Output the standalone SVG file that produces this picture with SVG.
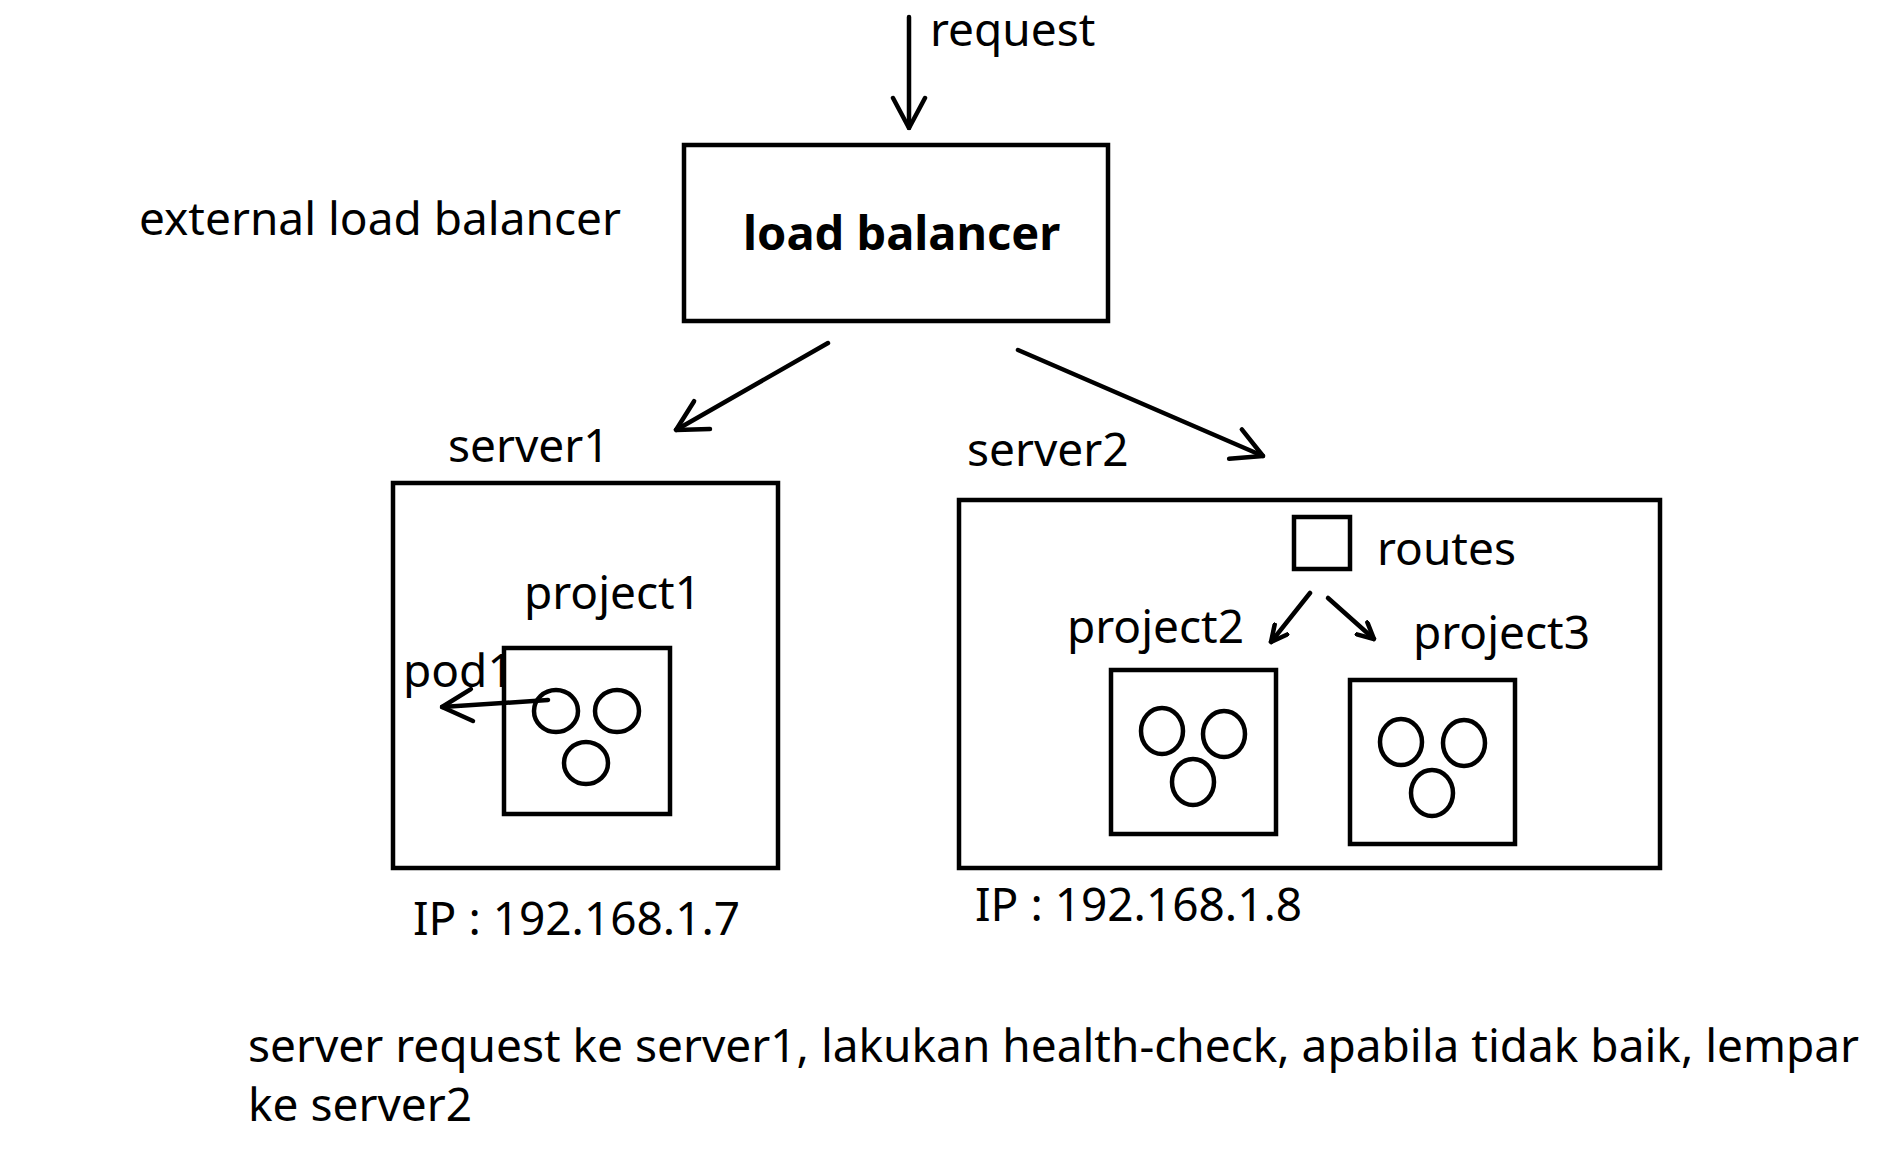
<svg xmlns="http://www.w3.org/2000/svg" width="1897" height="1150" viewBox="0 0 1897 1150">
<defs>
<style>
text{font-family:"Noto Sans","Open Sans",sans-serif;font-size:46px;fill:#000}
.b{font-weight:bold;font-size:47px}
.box{fill:none;stroke:#000;stroke-width:4.5}
.c{fill:none;stroke:#000;stroke-width:4.5}
.ln{fill:none;stroke:#000;stroke-width:4.5;stroke-linecap:round;stroke-linejoin:round}
</style>
<marker id="ah" viewBox="0 0 20 20" refX="18" refY="10" markerWidth="20" markerHeight="20" markerUnits="userSpaceOnUse" orient="auto">
<path d="M2,2 L18,10 L2,18" fill="none" stroke="#000" stroke-width="4.5" stroke-linecap="round" stroke-linejoin="round"/>
</marker>
<marker id="ahL" viewBox="0 0 40 40" refX="38" refY="20" markerWidth="40" markerHeight="40" markerUnits="userSpaceOnUse" orient="auto">
<path d="M8,4 L38,20 L8,36" fill="none" stroke="#000" stroke-width="4.5" stroke-linecap="round" stroke-linejoin="round"/>
</marker>
</defs>
<rect width="1897" height="1150" fill="#fff"/>
<text x="139" y="235">external load balancer</text>
<text x="930" y="46">request</text>
<g id="loadbalancer">
<rect class="box" x="684" y="145" width="424" height="176"/>
<text class="b" x="743" y="250">load balancer</text>
</g>
<g id="server1">
<text x="448" y="462">server1</text>
<rect class="box" x="393" y="483" width="385" height="385"/>
<text x="413" y="935">IP : 192.168.1.7</text>
</g>
<g id="project1">
<text x="524" y="609">project1</text>
<rect class="box" x="504" y="648" width="166" height="166"/>
<ellipse class="c" cx="556" cy="711" rx="22" ry="21"/>
<ellipse class="c" cx="617" cy="711" rx="22" ry="21"/>
<ellipse class="c" cx="586" cy="763" rx="22" ry="21"/>
</g>
<text x="403" y="687">pod1</text>
<g id="server2">
<text x="967" y="466">server2</text>
<rect class="box" x="959" y="500" width="701" height="368"/>
<text x="975" y="921">IP : 192.168.1.8</text>
</g>
<g id="routes">
<rect class="box" x="1294" y="517" width="56" height="52"/>
<text x="1377" y="565">routes</text>
</g>
<g id="project2">
<text x="1067" y="643">project2</text>
<rect class="box" x="1111" y="670" width="165" height="164"/>
<ellipse class="c" cx="1162" cy="731" rx="21" ry="23"/>
<ellipse class="c" cx="1224" cy="734" rx="21" ry="23"/>
<ellipse class="c" cx="1193" cy="782" rx="21" ry="23"/>
</g>
<g id="project3">
<text x="1413" y="649">project3</text>
<rect class="box" x="1350" y="680" width="165" height="164"/>
<ellipse class="c" cx="1401" cy="742" rx="21" ry="23"/>
<ellipse class="c" cx="1464" cy="743" rx="21" ry="23"/>
<ellipse class="c" cx="1432" cy="793" rx="21" ry="23"/>
</g>
<g id="connectors">
<line class="ln" x1="909" y1="17" x2="909" y2="128" marker-end="url(#ahL)"/>
<line class="ln" x1="828" y1="343" x2="676" y2="430" marker-end="url(#ahL)"/>
<line class="ln" x1="1018" y1="350" x2="1263" y2="456" marker-end="url(#ahL)"/>
<line class="ln" x1="548" y1="700" x2="442" y2="707" marker-end="url(#ahL)"/>
<line class="ln" x1="1310" y1="593" x2="1271" y2="642" marker-end="url(#ah)"/>
<line class="ln" x1="1328" y1="598" x2="1374" y2="639" marker-end="url(#ah)"/>
</g>
<g id="note">
<text x="248" y="1062">server request ke server1, lakukan health-check, apabila tidak baik, lempar</text>
<text x="248" y="1121">ke server2</text>
</g>
</svg>
